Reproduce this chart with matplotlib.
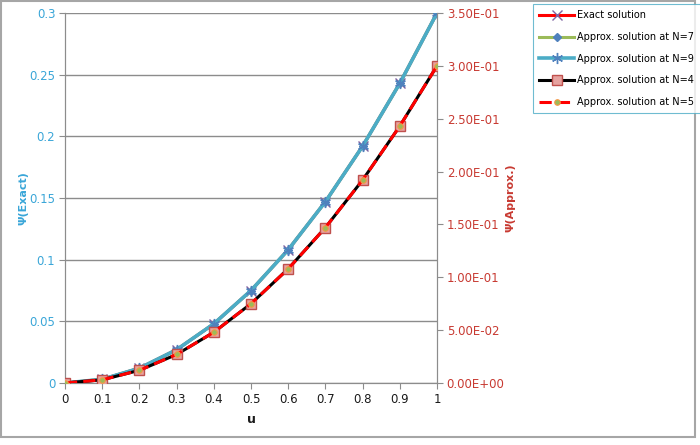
import numpy as np
import matplotlib
matplotlib.use("Agg")
import matplotlib.pyplot as plt
from matplotlib.patches import Rectangle

# data
u = [0, 0.1, 0.2, 0.3, 0.4, 0.5, 0.6, 0.7, 0.8, 0.9, 1.0]
exact = [0, 0.003, 0.012, 0.027, 0.048, 0.075, 0.108, 0.147, 0.192, 0.243, 0.3]
approx_n7 = [0, 0.003, 0.012, 0.027, 0.048, 0.075, 0.108, 0.147, 0.192, 0.243, 0.3]
approx_n9 = [0, 0.003, 0.012, 0.027, 0.048, 0.075, 0.108, 0.147, 0.192, 0.243, 0.3]
approx_n4 = [0, 0.003, 0.012, 0.027, 0.048, 0.075, 0.108, 0.147, 0.192, 0.243, 0.3]
approx_n5 = [0, 0.003, 0.012, 0.027, 0.048, 0.075, 0.108, 0.147, 0.192, 0.243, 0.3]

left_ticks = [0, 0.05, 0.1, 0.15, 0.2, 0.25, 0.3]
right_ticks = [0, 0.05, 0.1, 0.15, 0.2, 0.25, 0.3, 0.35]
x_ticks = [0, 0.1, 0.2, 0.3, 0.4, 0.5, 0.6, 0.7, 0.8, 0.9, 1]

blue_txt = "#3AA6D8"
red_txt = "#C83A32"
grey = "#8C8C8C"

plt.rcParams['font.family'] = ['DejaVu Sans']

fig = plt.figure(figsize=(7.0, 4.45), dpi=100)
ax1 = fig.add_axes([65/700, 1-383/445, 372/700, 370/445])
ax2 = ax1.twinx()

# primary axis series
l1, = ax1.plot(u, exact, color="#FF0000", lw=2.2, marker="x", ms=7,
               mec="#8064A2", mew=1, label="Exact solution", zorder=3)
l2, = ax1.plot(u, approx_n7, color="#9BBB59", lw=2.2, marker="D", ms=4,
               mfc="#4F81BD", mec="#4F81BD", label="Approx. solution at N=7", zorder=4)
l3, = ax1.plot(u, approx_n9, color="#4BACC6", lw=2.6, marker=(6, 2, 0), ms=8,
               mec="#4F81BD", mew=1, label="Approx. solution at N=9", zorder=5)

# secondary axis series
l4, = ax2.plot(u, approx_n4, color="black", lw=2.2, marker="s", ms=7,
               mfc="#E6A3A0", mec="#C0504D", mew=1, label="Approx. solution at N=4", zorder=3)
l5, = ax2.plot(u, approx_n5, color="#FF0000", lw=2.2, ls=(0, (4, 2)), marker="o", ms=4,
               mfc="#9BBB59", mec="#F79646", mew=0.8, label="Approx. solution at N=5", zorder=4)

ax1.set_xlim(0, 1)
ax1.set_ylim(0, 0.3)
ax2.set_ylim(0, 0.35)
ax1.set_xticks(x_ticks)
ax1.set_xticklabels([f"{t:g}" for t in x_ticks])
ax1.set_yticks(left_ticks)
ax1.set_yticklabels([f"{t:g}" for t in left_ticks])
ax2.set_yticks(right_ticks)
ax2.set_yticklabels([f"{t:.2E}" for t in right_ticks])

ax1.grid(axis="y", color=grey, lw=1)
ax1.set_axisbelow(True)

for a in (ax1, ax2):
    for s in a.spines.values():
        s.set_color(grey)
    a.spines["top"].set_visible(False)

ax1.tick_params(axis="x", colors=grey, labelcolor="#1A1A1A", labelsize=8.5, length=4, pad=3)
ax1.tick_params(axis="y", colors=grey, labelcolor=blue_txt, labelsize=8.5, length=4, pad=3)
ax2.tick_params(axis="y", colors=grey, labelcolor=red_txt, labelsize=8.5, length=4, pad=3)

ax1.set_xlabel("u", fontsize=9, fontweight="bold", color="#1A1A1A", labelpad=5)
ax1.set_ylabel("Ψ(Exact)", fontsize=8, fontweight="bold", color=blue_txt)
ax2.set_ylabel("Ψ(Approx.)", fontsize=8, fontweight="bold", color=red_txt, rotation=90)
ax1.yaxis.set_label_coords(-37/372, 0.5)
ax2.yaxis.set_label_coords(440/372, 0.5)

leg = fig.legend(handles=[l1, l2, l3, l4, l5], loc="upper left",
                 bbox_to_anchor=(533/700, 1-4/445), fontsize=7, frameon=True,
                 fancybox=False, handlelength=3.6, labelspacing=1.2,
                 borderpad=0.65, handletextpad=0.3, borderaxespad=0)
leg.get_frame().set_edgecolor("#4BACC6")
leg.get_frame().set_linewidth(0.8)

# outer chart border
fig.patches.append(Rectangle((1/700, 8/445), 694/700, 436/445, transform=fig.transFigure,
                             fill=False, edgecolor="#A6A6A6", lw=1.5))

fig.savefig("out.png", dpi=100)
